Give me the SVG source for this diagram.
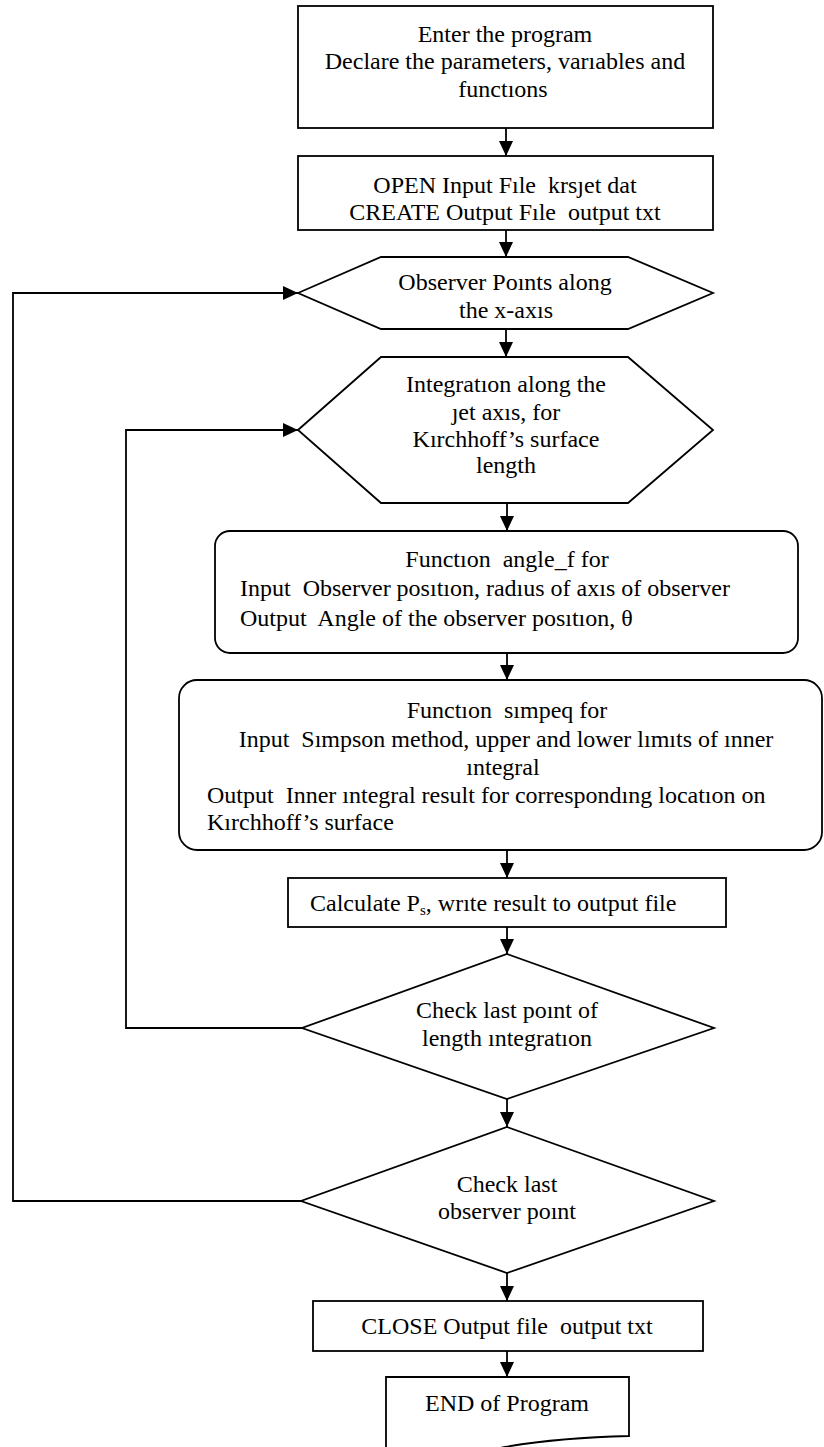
<svg xmlns="http://www.w3.org/2000/svg" width="824" height="1447" viewBox="0 0 824 1447" xml:space="preserve">
<defs>
<marker id="ah" markerUnits="userSpaceOnUse" markerWidth="15" markerHeight="14" refX="15" refY="7" orient="auto">
<path d="M0,0 L15,7 L0,14 Z" fill="#000"/>
</marker>
<style>
.s{fill:#fff;stroke:#000;stroke-width:1.8}
.t{font-family:"Liberation Serif","Times New Roman",serif;font-size:24px;fill:#000;white-space:pre}
.c{text-anchor:middle}
.e{fill:none;stroke:#000;stroke-width:1.8;marker-end:url(#ah)}
</style>
</defs>
<rect width="824" height="1447" fill="#fff"/>
<g id="connectors">
<line class="e" x1="506" y1="128" x2="506" y2="156"/>
<line class="e" x1="506" y1="230" x2="506" y2="257"/>
<line class="e" x1="506" y1="329" x2="506" y2="357"/>
<line class="e" x1="507" y1="503" x2="507" y2="531"/>
<line class="e" x1="507" y1="653" x2="507" y2="680"/>
<line class="e" x1="507" y1="850" x2="507" y2="878"/>
<line class="e" x1="507" y1="927" x2="507" y2="954"/>
<line class="e" x1="507" y1="1099" x2="507" y2="1127"/>
<line class="e" x1="507" y1="1273" x2="507" y2="1301"/>
<line class="e" x1="507" y1="1351" x2="507" y2="1377"/>
<polyline class="e" points="302,1028 126,1028 126,430 298,430"/>
<polyline class="e" points="301,1201 13,1201 13,293 298,293"/>
</g>
<g id="start">
<rect class="s" x="298" y="6" width="415" height="122"/>
<text class="t c" x="505" y="42">Enter the program</text>
<text class="t c" x="505" y="69">Declare the parameters, varıables and</text>
<text class="t c" x="503" y="97">functıons</text>
</g>
<g id="open">
<rect class="s" x="298" y="156" width="415" height="74"/>
<text class="t c" x="505" y="193">OPEN Input Fıle  krsȷet dat</text>
<text class="t c" x="505" y="220">CREATE Output Fıle  output txt</text>
</g>
<g id="observer">
<polygon class="s" points="298,293 381,257 628,257 713,293 628,329 381,329"/>
<text class="t c" x="505" y="290">Observer Poınts along</text>
<text class="t c" x="506" y="318">the x-axıs</text>
</g>
<g id="integration">
<polygon class="s" points="298,430 381,357 628,357 713,430 628,503 381,503"/>
<text class="t c" x="506" y="392">Integratıon along the</text>
<text class="t c" x="506" y="420">ȷet axıs, for</text>
<text class="t c" x="506" y="447">Kırchhoff’s surface</text>
<text class="t c" x="506" y="473">length</text>
</g>
<g id="angle_f">
<rect class="s" x="215" y="531" width="583" height="122" rx="15"/>
<text class="t c" x="507" y="567">Functıon  angle_f for</text>
<text class="t" x="240" y="596">Input  Observer posıtıon, radıus of axıs of observer</text>
<text class="t" x="240" y="626">Output  Angle of the observer posıtıon, θ</text>
</g>
<g id="simpeq">
<rect class="s" x="179" y="680" width="643" height="170" rx="18"/>
<text class="t c" x="507" y="718">Functıon  sımpeq for</text>
<text class="t c" x="506" y="747">Input  Sımpson method, upper and lower lımıts of ınner</text>
<text class="t c" x="503" y="775">ıntegral</text>
<text class="t" x="207" y="803">Output  Inner ıntegral result for correspondıng locatıon on</text>
<text class="t" x="207" y="830">Kırchhoff’s surface</text>
</g>
<g id="calculate">
<rect class="s" x="288" y="878" width="438" height="49"/>
<text class="t" x="310" y="911">Calculate P<tspan font-size="15" dy="4">s</tspan><tspan dy="-4">, wrıte result to output file</tspan></text>
</g>
<g id="check_length">
<polygon class="s" points="507,954 714,1028 507,1099 302,1028"/>
<text class="t c" x="507" y="1018">Check last poınt of</text>
<text class="t c" x="507" y="1046">length ıntegratıon</text>
</g>
<g id="check_observer">
<polygon class="s" points="507,1127 714,1201 507,1273 301,1201"/>
<text class="t c" x="507" y="1192">Check last</text>
<text class="t c" x="507" y="1219">observer poınt</text>
</g>
<g id="close">
<rect class="s" x="313" y="1301" width="390" height="50"/>
<text class="t c" x="507" y="1334">CLOSE Output file  output txt</text>
</g>
<g id="end">
<path class="s" d="M386,1377 L629,1377 L629,1436 C585,1437 545,1440 505,1447 C470,1454 430,1462 386,1460 Z"/>
<text class="t c" x="507" y="1411">END of Program</text>
</g>
</svg>
